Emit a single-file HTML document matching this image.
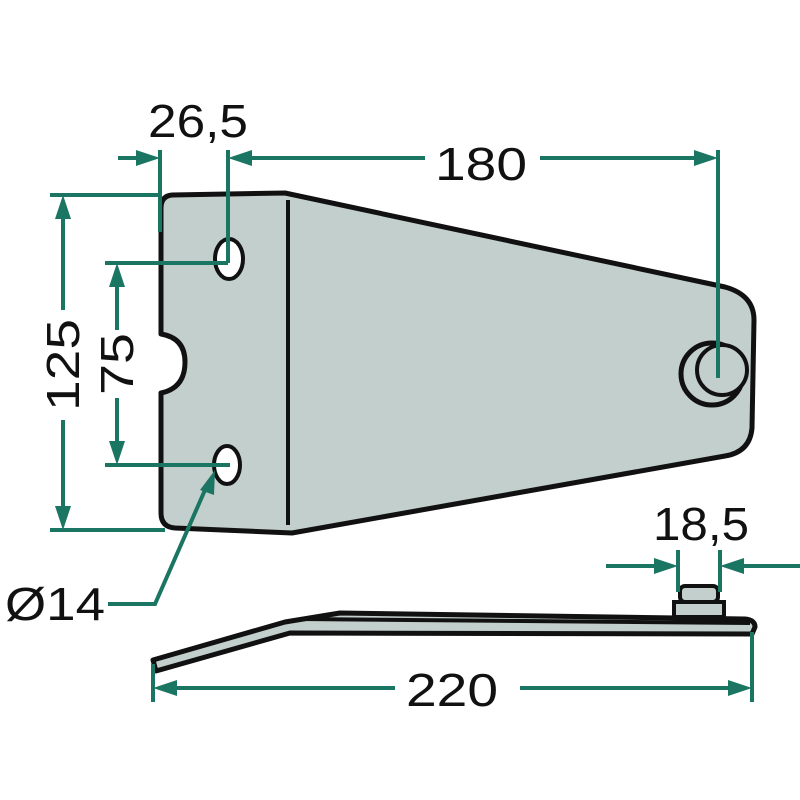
<!DOCTYPE html>
<html><head><meta charset="utf-8"><style>html,body{margin:0;padding:0;background:#fff}svg{display:block}</style></head>
<body>
<svg width="800" height="800" viewBox="0 0 800 800" xmlns="http://www.w3.org/2000/svg">
<g fill="#c3cfcc" stroke="#111" stroke-width="5" stroke-linejoin="round">
<path d="M172,195 L285,193 L725,287 Q754,295 754,320 L752,428 Q750,452 725,456 L292,533 L175,528 Q161,527 161,513 L161,393 Q185,388 185,362 Q185,338 161,334 L161,208 Q161,196 172,195 Z"/>
</g>
<line x1="288" y1="200" x2="288" y2="525" stroke="#111" stroke-width="4"/>
<ellipse cx="229" cy="259" rx="14" ry="20" fill="#fff" stroke="#111" stroke-width="4"/>
<ellipse cx="227" cy="465" rx="13" ry="19" fill="#fff" stroke="#111" stroke-width="4"/>
<circle cx="712" cy="374" r="31" fill="#c3cfcc" stroke="#111" stroke-width="5"/>
<circle cx="722" cy="370" r="25" fill="#c3cfcc" stroke="#111" stroke-width="4"/>
<!-- side view -->
<path d="M153,660 L285,622 L340,613 L745,619 Q755,620 755,627 L752,634 L290,633 L156,671 Z" fill="#c3cfcc" stroke="#111" stroke-width="5" stroke-linejoin="round"/>
<line x1="300" y1="619" x2="750" y2="623" stroke="#111" stroke-width="4"/>
<rect x="674" y="602" width="50" height="15" fill="#c3cfcc" stroke="#111" stroke-width="4"/>
<rect x="680" y="586" width="38" height="16" rx="5" fill="#c3cfcc" stroke="#111" stroke-width="4"/>
<g stroke="#1b7563" stroke-width="4" fill="none">
<line x1="118" y1="158" x2="150" y2="158"/>
<line x1="160" y1="150" x2="160" y2="232"/>
<line x1="228" y1="150" x2="228" y2="263"/>
<line x1="238" y1="158" x2="425" y2="158"/>
<line x1="540" y1="158" x2="708" y2="158"/>
<line x1="718" y1="150" x2="718" y2="378"/>
<line x1="50" y1="195" x2="160" y2="195"/>
<line x1="50" y1="530" x2="165" y2="530"/>
<line x1="63" y1="205" x2="63" y2="310"/>
<line x1="63" y1="420" x2="63" y2="520"/>
<line x1="105" y1="263" x2="228" y2="263"/>
<line x1="105" y1="465" x2="230" y2="465"/>
<line x1="117" y1="273" x2="117" y2="330"/>
<line x1="117" y1="398" x2="117" y2="455"/>
<polyline points="108,604 155,604 205,490"/>
<line x1="606" y1="566" x2="668" y2="566"/>
<line x1="732" y1="566" x2="800" y2="566"/>
<line x1="678" y1="550" x2="678" y2="592"/>
<line x1="720" y1="550" x2="720" y2="592"/>
<line x1="153" y1="664" x2="153" y2="702"/>
<line x1="752" y1="632" x2="752" y2="702"/>
<line x1="163" y1="688" x2="395" y2="688"/>
<line x1="520" y1="688" x2="742" y2="688"/>
</g>
<g fill="#1b7563">
<polygon points="160,158 136,150 136,166"/>
<polygon points="228,158 252,150 252,166"/>
<polygon points="718,158 694,150 694,166"/>
<polygon points="63,195 55,219 71,219"/>
<polygon points="63,530 55,506 71,506"/>
<polygon points="117,263 109,287 125,287"/>
<polygon points="117,465 109,441 125,441"/>
<polygon points="215,470 200,490 214,495"/>
<polygon points="678,566 654,558 654,574"/>
<polygon points="720,566 744,558 744,574"/>
<polygon points="153,688 177,680 177,696"/>
<polygon points="752,688 728,680 728,696"/>
</g>
<g font-family="'Liberation Sans Narrow','Liberation Sans',sans-serif" font-size="46" fill="#111" text-anchor="middle">
<text x="198" y="137" textLength="100" lengthAdjust="spacingAndGlyphs">26,5</text>
<text x="481" y="180" textLength="92" lengthAdjust="spacingAndGlyphs">180</text>
<text x="701" y="540" textLength="96" lengthAdjust="spacingAndGlyphs">18,5</text>
<text x="55" y="620" textLength="100" lengthAdjust="spacingAndGlyphs">Ø14</text>
<text x="452" y="706" textLength="92" lengthAdjust="spacingAndGlyphs">220</text>
<text transform="translate(79,365) rotate(-90)" textLength="92" lengthAdjust="spacingAndGlyphs">125</text>
<text transform="translate(133,364) rotate(-90)" textLength="62" lengthAdjust="spacingAndGlyphs">75</text>
</g>
</svg>
</body></html>
